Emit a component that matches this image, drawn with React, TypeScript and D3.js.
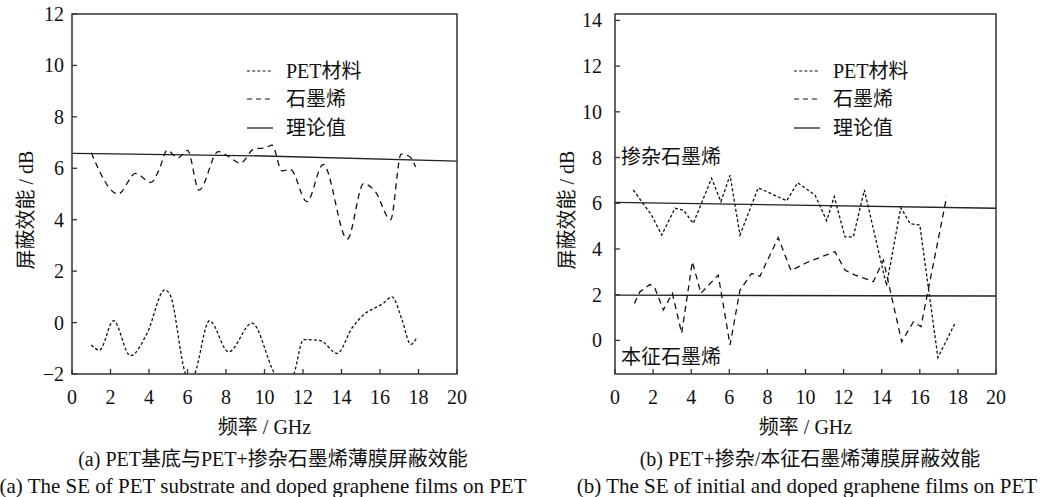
import React from 'react';
import * as d3 from 'd3';

// ---------- data ----------
const xTicks = [0, 2, 4, 6, 8, 10, 12, 14, 16, 18, 20];
const yTicksA = [-2, 0, 2, 4, 6, 8, 10, 12];
const yTicksB = [0, 2, 4, 6, 8, 10, 12, 14];

const legendLabels = ['PET材料', '石墨烯', '理论值'];
const captionA = ['(a) PET基底与PET+掺杂石墨烯薄膜屏蔽效能', '(a) The SE of PET substrate and doped graphene films on PET'];
const captionB = ['(b) PET+掺杂/本征石墨烯薄膜屏蔽效能', '(b) The SE of initial and doped graphene films on PET'];
const annotB = ['掺杂石墨烯', '本征石墨烯'];
const xLabel = '频率 / GHz';
const yLabel = '屏蔽效能 / dB';

// panel (a)
const petA: [number, number][] = [
  [1.0, -0.87], [1.43, -1.07], [2.16, 0.07], [3.03, -1.29], [3.9, -0.42], [4.82, 1.27], [5.1, 1.07],
  [6.0, -2.1], [6.26, -2.1], [7.14, 0.07], [8.14, -1.14], [9.35, -0.02], [10.73, -2.1], [11.43, -2.1],
  [12.03, -0.66], [12.9, -0.7], [13.77, -1.2], [14.55, -0.21], [15.06, 0.24], [16.19, 0.76], [16.62, 1.0],
  [17.14, 0.12], [17.6, -0.85], [17.9, -0.6],
];
const grapheneA: [number, number][] = [
  [1.0, 6.6], [2.4, 5.0], [3.3, 5.8], [4.1, 5.45], [4.5, 5.9], [4.95, 6.7], [5.5, 6.4], [6.0, 6.7],
  [6.6, 5.15], [7.6, 6.65], [8.15, 6.45], [8.75, 6.2], [9.45, 6.75], [10.05, 6.8], [10.4, 6.9],
  [10.9, 5.9], [11.35, 5.95], [12.2, 4.7], [13.05, 6.15], [14.3, 3.25], [15.15, 5.4], [15.75, 5.1],
  [16.55, 4.0], [17.1, 6.55], [17.55, 6.45], [17.85, 6.05],
];
const theoryA: [number, number][] = [[0, 6.58], [10, 6.48], [20, 6.28]];

// panel (b)
const dopedB: [number, number][] = [
  [0.96, 6.58], [1.92, 5.48], [2.45, 4.61], [3.15, 5.78], [3.59, 5.7], [4.11, 5.12], [5.07, 7.09],
  [5.56, 6.07], [6.04, 7.23], [6.56, 4.61], [7.52, 6.68], [9.01, 6.11], [9.59, 6.9], [10.5, 6.36],
  [11.11, 5.24], [11.51, 6.29], [12.07, 4.53], [12.51, 4.53], [13.09, 6.58], [14.25, 2.4], [15.0, 5.8],
  [15.5, 5.1], [16.0, 5.05], [16.95, -0.75], [17.85, 0.75],
];
const intrinsicB: [number, number][] = [
  [1.02, 1.62], [1.31, 2.13], [1.84, 2.45], [2.1, 2.27], [2.54, 1.33], [3.01, 2.06], [3.5, 0.31],
  [4.06, 3.44], [4.51, 2.06], [5.42, 2.86], [6.04, -0.2], [6.56, 2.2], [7.17, 2.93], [7.61, 2.81],
  [8.57, 4.5], [9.24, 3.05], [10.15, 3.44], [11.55, 3.88], [12.07, 3.08], [12.6, 2.86], [13.56, 2.57],
  [14.09, 3.51], [15.05, -0.06], [15.66, 0.81], [16.06, 0.6], [17.41, 6.29],
];
const theoryB1: [number, number][] = [[0, 6.04], [20, 5.78]];
const theoryB2: [number, number][] = [[0, 1.98], [20, 1.94]];

// ---------- styles ----------
const FONT = "'Liberation Serif', 'Times New Roman', 'Noto Sans CJK SC', serif";
const FS = 20;
const DOT = '3,2.2';
const DASH = '6,4.5';

type Series = { data: [number, number][]; dash?: string; curve: any; width?: number; color?: string };

type PanelProps = {
  id: string;
  x0: number; x1: number; y0: number; y1: number;
  yDomain: [number, number];
  yTicks: number[];
  series: Series[];
  legendX: number;
  yLabelX: number;
  tickLabelGap: number;
  annotations?: { text: string; x: number; y: number }[];
};

const fmt = (v: number) => (v < 0 ? '\u2212' + Math.abs(v) : String(v));

function Panel(p: PanelProps) {
  const x = d3.scaleLinear().domain([0, 20]).range([p.x0, p.x1]);
  const y = d3.scaleLinear().domain(p.yDomain).range([p.y1, p.y0]);
  const legendRows = [71, 99, 128];
  const legendDashes = [DOT, '5,4', undefined];
  const cx = (p.x0 + p.x1) / 2;
  return (
    <g>
      <defs>
        <clipPath id={'clip' + p.id}>
          <rect x={p.x0} y={p.y0} width={p.x1 - p.x0} height={p.y1 - p.y0} />
        </clipPath>
      </defs>
      <g clipPath={`url(#clip${p.id})`}>
        {p.series.map((s, i) => {
          const line = d3.line<[number, number]>().x(d => x(d[0])).y(d => y(d[1])).curve(s.curve);
          return (
            <path key={i} d={line(s.data) || ''} fill="none" stroke={s.color || '#111'}
              strokeWidth={s.width || 1.3} strokeDasharray={s.dash} />
          );
        })}
      </g>
      <rect x={p.x0} y={p.y0} width={p.x1 - p.x0} height={p.y1 - p.y0} fill="none" stroke="#333" strokeWidth={1.5} />
      {xTicks.map(t => (
        <g key={'x' + t}>
          <line x1={x(t)} x2={x(t)} y1={p.y1} y2={p.y1 - 5} stroke="#333" strokeWidth={1.3} />
          <text x={x(t)} y={p.y1 + 30} textAnchor="middle" fontFamily={FONT} fontSize={FS} fill="#111">{t}</text>
        </g>
      ))}
      {p.yTicks.map(t => (
        <g key={'y' + t}>
          <line x1={p.x0} x2={p.x0 + 5} y1={y(t)} y2={y(t)} stroke="#333" strokeWidth={1.3} />
          <text x={p.x0 - p.tickLabelGap} y={y(t)} dy="0.35em" textAnchor="end" fontFamily={FONT} fontSize={FS} fill="#111">{fmt(t)}</text>
        </g>
      ))}
      {legendLabels.map((l, i) => (
        <g key={'l' + i}>
          <line x1={p.legendX} x2={p.legendX + 26} y1={legendRows[i]} y2={legendRows[i]} stroke="#111" strokeWidth={1.2} strokeDasharray={legendDashes[i]} />
          <text x={p.legendX + 39} y={legendRows[i]} dy="0.35em" fontFamily={FONT} fontSize={FS} fill="#111">{l}</text>
        </g>
      ))}
      {(p.annotations || []).map((a, i) => (
        <text key={'a' + i} x={a.x} y={a.y} dy="0.35em" fontFamily={FONT} fontSize={FS} fill="#111">{a.text}</text>
      ))}
      <text transform={`translate(${p.yLabelX},210) rotate(-90)`} textAnchor="middle" dy="0.35em" fontFamily={FONT} fontSize={FS} fill="#111">{yLabel}</text>
      <text x={cx} y={427} dy="0.35em" textAnchor="middle" fontFamily={FONT} fontSize={FS} fill="#111">{xLabel}</text>
    </g>
  );
}

export default function App() {
  return (
    <svg width={1047} height={497} style={{ position: 'absolute', left: 0, top: 0, background: '#fff' }}>
      <Panel id="a" x0={72} x1={457} y0={14} y1={374} yDomain={[-2, 12]} yTicks={yTicksA}
        legendX={247} yLabelX={26} tickLabelGap={8}
        series={[
          { data: theoryA, curve: d3.curveMonotoneX, color: '#222', width: 1.4 },
          { data: grapheneA, curve: d3.curveMonotoneX, dash: DASH },
          { data: petA, curve: d3.curveMonotoneX, dash: DOT },
        ]} />
      <Panel id="b" x0={615} x1={996} y0={14} y1={374} yDomain={[-1.47, 14.28]} yTicks={yTicksB}
        legendX={794} yLabelX={567} tickLabelGap={13}
        annotations={[{ text: annotB[0], x: 621, y: 157 }, { text: annotB[1], x: 621, y: 357 }]}
        series={[
          { data: theoryB1, curve: d3.curveLinear, color: '#222', width: 1.4 },
          { data: theoryB2, curve: d3.curveLinear, color: '#222', width: 1.4 },
          { data: dopedB, curve: d3.curveLinear, dash: DOT },
          { data: intrinsicB, curve: d3.curveLinear, dash: DASH },
        ]} />
      <text x={273} y={459} dy="0.35em" textAnchor="middle" fontFamily={FONT} fontSize={FS} fill="#111">{captionA[0]}</text>
      <text x={263} y={486} dy="0.35em" textAnchor="middle" fontFamily={FONT} fontSize={21} fill="#111">{captionA[1]}</text>
      <text x={810} y={459} dy="0.35em" textAnchor="middle" fontFamily={FONT} fontSize={FS} fill="#111">{captionB[0]}</text>
      <text x={807} y={486} dy="0.35em" textAnchor="middle" fontFamily={FONT} fontSize={21} fill="#111">{captionB[1]}</text>
    </svg>
  );
}
